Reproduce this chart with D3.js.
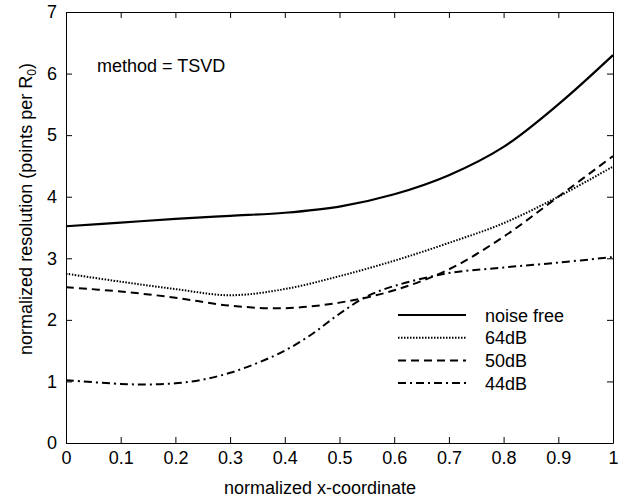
<!DOCTYPE html>
<html>
<head>
<meta charset="utf-8">
<script src="https://cdn.jsdelivr.net/npm/d3@7"></script>
<style>
  html, body { margin: 0; padding: 0; background: #fff; }
  svg { display: block; font-family: "Liberation Sans", Arial, Helvetica, sans-serif; }
  .tick text { font-size: 18px; fill: #000; }
  .axis path, .axis line { stroke: #000; stroke-width: 1; }
</style>
</head>
<body>
<svg id="chart" width="624" height="498"></svg>
<script>
/* ── Data ─────────────────────────────────────────────────────────────── */

const X_TICKS = [0, 0.1, 0.2, 0.3, 0.4, 0.5, 0.6, 0.7, 0.8, 0.9, 1];
const Y_TICKS = [0, 1, 2, 3, 4, 5, 6, 7];

const X_VALUES = [0, 0.1, 0.2, 0.3, 0.4, 0.5, 0.6, 0.7, 0.8, 0.9, 1];
const NOISE_FREE = [3.52, 3.58, 3.64, 3.69, 3.74, 3.84, 4.04, 4.35, 4.81, 5.5, 6.3];
const DB64 = [2.75, 2.62, 2.5, 2.4, 2.5, 2.71, 2.96, 3.25, 3.57, 4.0, 4.49];
const DB50 = [2.53, 2.46, 2.36, 2.23, 2.19, 2.28, 2.48, 2.82, 3.35, 4.0, 4.66];

const X_44 = [0, 0.1, 0.15, 0.2, 0.25, 0.3, 0.35, 0.4, 0.45, 0.5, 0.55, 0.6, 0.7, 0.8, 0.9, 1];
const DB44 = [1.02, 0.96, 0.95, 0.97, 1.03, 1.14, 1.3, 1.5, 1.77, 2.1, 2.38, 2.55, 2.76, 2.85, 2.93, 3.02];

const LEGEND_LABELS = ["noise free", "64dB", "50dB", "44dB"];
const ANNOTATION = "method = TSVD";

/* ── Layout ───────────────────────────────────────────────────────────── */

const m = { top: 12, right: 11, bottom: 55, left: 66 };
const W = 624 - m.left - m.right;
const H = 498 - m.top - m.bottom;

const svg = d3.select("#chart");
const g = svg.append("g").attr("transform", `translate(${m.left},${m.top})`);

const x = d3.scaleLinear().domain([0, 1]).range([0, W]);
const y = d3.scaleLinear().domain([0, 7]).range([H, 0]);

const fmt = d3.format("~g");

// axes with inward ticks on all four sides
g.append("g")
  .attr("class", "axis")
  .attr("transform", `translate(0,${H})`)
  .call(d3.axisBottom(x).tickValues(X_TICKS).tickFormat(fmt).tickSize(-6).tickSizeOuter(0).tickPadding(8));

g.append("g")
  .attr("class", "axis")
  .call(d3.axisTop(x).tickValues(X_TICKS).tickFormat("").tickSize(-6).tickSizeOuter(0));

g.append("g")
  .attr("class", "axis")
  .call(d3.axisLeft(y).tickValues(Y_TICKS).tickFormat(fmt).tickSize(-6).tickSizeOuter(0).tickPadding(9));

g.append("g")
  .attr("class", "axis")
  .attr("transform", `translate(${W},0)`)
  .call(d3.axisRight(y).tickValues(Y_TICKS).tickFormat("").tickSize(-6).tickSizeOuter(0));

svg.selectAll(".tick text").attr("font-family", null);

/* ── Curves ───────────────────────────────────────────────────────────── */

const STYLES = [
  { width: 2.2, dash: null },
  { width: 2, dash: "1.5,1.5" },
  { width: 2, dash: "8,5" },
  { width: 2, dash: "8,4,2,4" },
];

const SERIES = [
  X_VALUES.map((v, i) => [v, NOISE_FREE[i]]),
  X_VALUES.map((v, i) => [v, DB64[i]]),
  X_VALUES.map((v, i) => [v, DB50[i]]),
  X_44.map((v, i) => [v, DB44[i]]),
];

const line = d3.line()
  .x((d) => x(d[0]))
  .y((d) => y(d[1]))
  .curve(d3.curveCatmullRom.alpha(0.5));

SERIES.forEach((pts, i) => {
  g.append("path")
    .attr("d", line(pts))
    .attr("fill", "none")
    .attr("stroke", "#000")
    .attr("stroke-width", STYLES[i].width)
    .attr("stroke-dasharray", STYLES[i].dash);
});

/* ── Legend ───────────────────────────────────────────────────────────── */

const legend = svg.append("g").attr("transform", "translate(398,315)");
LEGEND_LABELS.forEach((lab, i) => {
  const row = legend.append("g").attr("transform", `translate(0,${i * 22.7})`);
  row.append("line")
    .attr("x1", 0).attr("x2", 68)
    .attr("stroke", "#000")
    .attr("stroke-width", STYLES[i].width)
    .attr("stroke-dasharray", STYLES[i].dash);
  row.append("text")
    .attr("x", 87).attr("y", 6.5)
    .attr("font-size", 18)
    .text(lab);
});

/* ── Texts ────────────────────────────────────────────────────────────── */

svg.append("text")
  .attr("x", 97).attr("y", 72)
  .attr("font-size", 18)
  .text(ANNOTATION);

svg.append("text")
  .attr("x", 320).attr("y", 494)
  .attr("text-anchor", "middle")
  .attr("font-size", 18)
  .text("normalized x-coordinate");

const yt = svg.append("text")
  .attr("transform", "translate(32,209) rotate(-90)")
  .attr("text-anchor", "middle")
  .attr("font-size", 18);
yt.append("tspan").text("normalized resolution (points per R");
yt.append("tspan").attr("font-size", 12).attr("dy", 4).text("0");
yt.append("tspan").attr("dy", -4).text(")");
</script>
</body>
</html>
